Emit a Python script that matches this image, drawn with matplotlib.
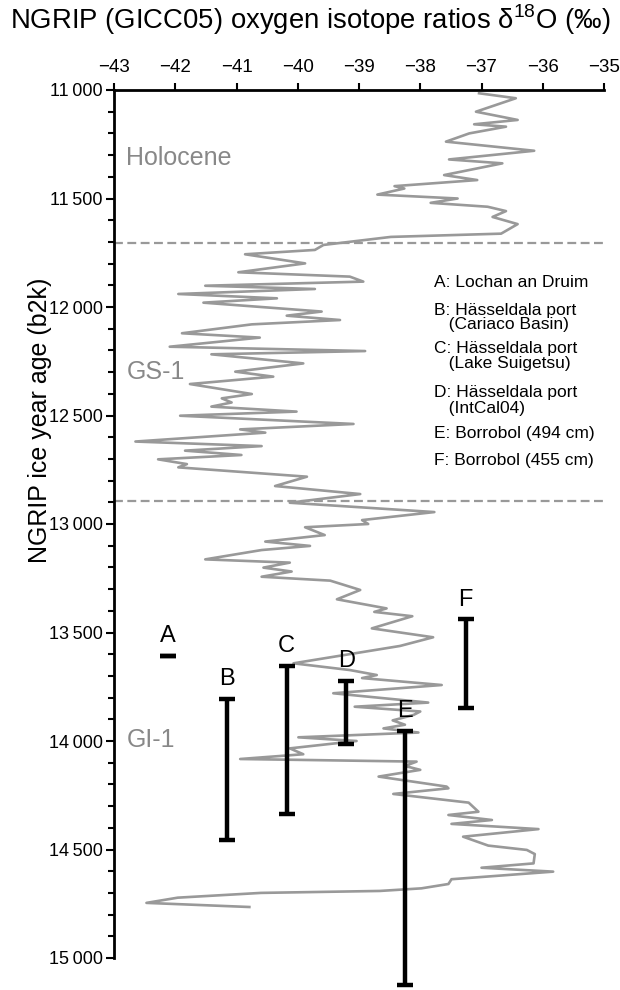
import matplotlib
matplotlib.use("Agg")
import matplotlib.pyplot as plt
from matplotlib.ticker import MultipleLocator, FuncFormatter

plt.rcParams['font.family'] = ['Liberation Sans', 'DejaVu Sans']
plt.rcParams['mathtext.fontset'] = 'custom'
plt.rcParams['mathtext.rm'] = 'Liberation Sans'

# NGRIP d18O record (age b2k, permil)
age = [11015, 11038, 11100, 11138, 11158, 11169, 11200, 11238, 11280, 11320,
       11338, 11392, 11415, 11443, 11454, 11482, 11500, 11520, 11538, 11558,
       11585, 11618, 11662, 11677, 11714, 11737, 11757, 11799, 11840, 11860,
       11883, 11902, 11917, 11940, 11960, 11980, 12021, 12040, 12060, 12080,
       12121, 12141, 12183, 12203, 12218, 12260, 12298, 12321, 12355, 12401,
       12421, 12440, 12459, 12482, 12501, 12539, 12564, 12579, 12620, 12641,
       12662, 12682, 12702, 12724, 12739, 12782, 12825, 12862, 12902, 12945,
       12982, 13000, 13015, 13051, 13081, 13101, 13120, 13163, 13178, 13201,
       13219, 13243, 13261, 13304, 13347, 13389, 13405, 13425, 13481, 13522,
       13562, 13642, 13673, 13696, 13710, 13742, 13780, 13823, 13842, 13864,
       13880, 13905, 13925, 13942, 13961, 13983, 14000, 14034, 14061, 14083,
       14095, 14115, 14133, 14164, 14210, 14218, 14244, 14284, 14326, 14341,
       14364, 14382, 14406, 14441, 14482, 14502, 14521, 14564, 14584, 14602,
       14637, 14659, 14679, 14691, 14700, 14722, 14746, 14765]
d18o = [-37.04, -36.44, -37.09, -36.41, -37.12, -36.60, -37.20, -37.58, -36.14, -37.53,
        -36.66, -37.61, -37.07, -38.42, -38.26, -38.70, -37.39, -37.83, -36.90, -36.60,
        -36.82, -36.41, -36.68, -38.48, -39.58, -39.72, -40.86, -39.88, -40.97, -39.15,
        -38.93, -41.51, -39.72, -41.95, -40.34, -41.54, -39.61, -40.18, -39.31, -40.75,
        -41.89, -40.62, -42.09, -38.90, -41.41, -39.91, -41.02, -40.40, -41.76, -40.75,
        -41.24, -41.08, -41.41, -40.02, -41.92, -39.09, -40.94, -40.53, -42.65, -40.59,
        -41.84, -40.92, -42.28, -41.81, -41.95, -39.85, -40.37, -38.98, -40.13, -37.77,
        -38.95, -38.85, -39.88, -39.56, -40.53, -39.80, -40.59, -41.51, -40.13, -40.56,
        -40.10, -40.59, -39.47, -38.98, -39.36, -38.55, -38.75, -38.13, -38.79, -37.79,
        -38.33, -40.07, -39.15, -38.71, -38.95, -37.65, -39.42, -37.87, -39.07, -38.00,
        -38.11, -38.45, -38.25, -38.60, -38.03, -39.99, -39.04, -40.13, -39.91, -40.94,
        -38.06, -38.25, -38.00, -38.68, -37.57, -37.54, -38.44, -37.21, -37.05, -37.54,
        -36.83, -37.49, -36.07, -37.30, -36.89, -36.26, -36.13, -36.15, -37.00, -35.83,
        -37.49, -37.54, -37.98, -38.66, -40.60, -41.96, -42.47, -40.79]

# stadial/interstadial boundaries
boundaries = [11703, 12896]
periods = ["Holocene", "GS-1", "GI-1"]
period_age = [11313, 12300, 13995]

# tephra / age estimates
site_labels = ["A", "B", "C", "D", "E", "F"]
site_x = [-42.12, -41.15, -40.18, -39.21, -38.25, -37.26]
site_top = [13610, 13805, 13653, 13723, 13955, 13440]
site_bottom = [13610, 14454, 14338, 14014, 15124, 13847]
legend_lines = ["A: Lochan an Druim", "B: Hässeldala port", "   (Cariaco Basin)",
                "C: Hässeldala port", "   (Lake Suigetsu)", "D: Hässeldala port",
                "   (IntCal04)", "E: Borrobol (494 cm)", "F: Borrobol (455 cm)"]
legend_y = [282, 310, 325, 349, 364, 392, 408, 434, 461]

fig = plt.figure(figsize=(6.2, 9.9), dpi=100)
ax = fig.add_axes([114 / 620, 1 - 958 / 990, 490 / 620, 868 / 990])

ax.plot(d18o, age, color='#999999', lw=1.9, zorder=2)
for b in boundaries:
    ax.axhline(b, color='#999999', lw=1.6, linestyle=(0, (4, 2)), zorder=1)

for name, yr in zip(periods, period_age):
    ax.text(-42.8, yr, name, color='#888888', fontsize=18, va='center', ha='left')

for lab, x, t, b in zip(site_labels, site_x, site_top, site_bottom):
    ax.errorbar([x], [(t + b) / 2], yerr=[[(b - t) / 2], [(b - t) / 2]], fmt='none',
                ecolor='black', elinewidth=3.2, capsize=5.5, capthick=3.2,
                clip_on=False, zorder=3)
    ax.annotate(lab, (x, t), xytext=(0, 10), textcoords='offset points',
                ha='center', va='baseline', fontsize=17, color='black')

for txt, y in zip(legend_lines, legend_y):
    fig.text(434 / 620, 1 - y / 990, txt, fontsize=12.5, va='center', ha='left')

ax.set_xlim(-43, -35)
ax.set_ylim(15000, 11000)
ax.xaxis.tick_top()
ax.xaxis.set_major_locator(MultipleLocator(1))
ax.yaxis.set_major_locator(MultipleLocator(500))
ax.yaxis.set_minor_locator(MultipleLocator(100))
ax.yaxis.set_major_formatter(FuncFormatter(lambda v, p: f"{int(v):,}".replace(",", "\u2009")))
ax.tick_params(axis='x', direction='out', length=5, width=1.5, labelsize=13.5, pad=5)
ax.tick_params(axis='y', which='major', direction='out', length=6, width=1.5,
               labelsize=13, pad=2)
ax.tick_params(axis='y', which='minor', direction='out', length=4, width=1.5)
for s in ['right', 'bottom']:
    ax.spines[s].set_visible(False)
for s in ['left', 'top']:
    ax.spines[s].set_linewidth(2)

fig.text(0.5, 1 - 20 / 990, "NGRIP (GICC05) oxygen isotope ratios δ$^{\\mathrm{18}}$O (‰)",
         ha='center', va='center', fontsize=19.8)
fig.text(40 / 620, 1 - 420 / 990, "NGRIP ice year age (b2k)", rotation=90,
         ha='center', va='center', fontsize=18)

fig.savefig("out.png", dpi=100)
